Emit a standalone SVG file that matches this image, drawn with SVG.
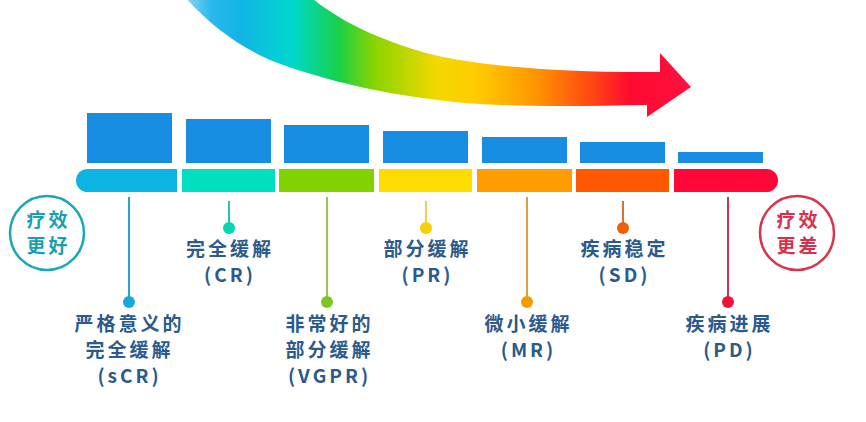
<svg xmlns="http://www.w3.org/2000/svg" width="866" height="422" viewBox="0 0 866 422">
<defs>
<linearGradient id="rainbow" gradientUnits="userSpaceOnUse" x1="180" y1="0" x2="692" y2="0">
<stop offset="0" stop-color="#a8dcf4"/>
<stop offset="0.06" stop-color="#2ab8ec"/>
<stop offset="0.12" stop-color="#12b4e6"/>
<stop offset="0.22" stop-color="#00d8cc"/>
<stop offset="0.31" stop-color="#18d048"/>
<stop offset="0.38" stop-color="#8ad400"/>
<stop offset="0.5" stop-color="#f2d800"/>
<stop offset="0.58" stop-color="#ffcc00"/>
<stop offset="0.7" stop-color="#ff9200"/>
<stop offset="0.8" stop-color="#ff4a10"/>
<stop offset="0.88" stop-color="#ff0a30"/>
<stop offset="1" stop-color="#ff1040"/>
</linearGradient>
</defs>
<style>
.bar{fill:#168de0}
.lbl{font-family:"Noto Sans CJK SC","Noto Sans",sans-serif;font-weight:700;font-size:19px;fill:#2b5b8c;text-anchor:middle;letter-spacing:3px}
.ctxt{font-family:"Noto Sans CJK SC","Noto Sans",sans-serif;font-weight:700;font-size:19px;text-anchor:middle;letter-spacing:3px}
.conn line{stroke-width:2}
</style>
<rect width="866" height="422" fill="#ffffff"/>

<g id="arrow">
<path d="M 308,-5 C 340,22 380,40 430,54 C 480,66 560,73 660,72 L 660,53 L 691,87 L 647,117 L 647,105 C 590,106 530,107 480,104 C 400,99 320,80 270,60 C 235,45 205,20 183,-5 Z" fill="url(#rainbow)"/>
</g>

<g id="better">
<circle cx="47" cy="233" r="37" fill="none" stroke="#1aa8b8" stroke-width="2.5"/>
<text class="ctxt" x="48.5" y="227" fill="#1a9fb2">疗效</text>
<text class="ctxt" x="48.5" y="253" fill="#1a9fb2">更好</text>
</g>
<g id="worse">
<circle cx="797" cy="233" r="37" fill="none" stroke="#d8344e" stroke-width="2.5"/>
<text class="ctxt" x="798.5" y="227" fill="#d8304c">疗效</text>
<text class="ctxt" x="798.5" y="253" fill="#d8304c">更差</text>
</g>

<g id="connectors" class="conn">
<line x1="129" y1="197" x2="129" y2="300" stroke="#2aa2cc"/>
<line x1="229" y1="201" x2="229" y2="224" stroke="#22c8a8"/>
<line x1="327" y1="197" x2="327" y2="300" stroke="#9cc448"/>
<line x1="426" y1="201" x2="426" y2="224" stroke="#eed050"/>
<line x1="527" y1="197" x2="527" y2="300" stroke="#e0a040"/>
<line x1="623" y1="201" x2="623" y2="224" stroke="#d87038"/>
<line x1="728" y1="197" x2="728" y2="300" stroke="#d03454"/>
</g>

<g id="sCR">
<rect class="bar" x="87" y="113" width="85" height="50"/>
<path d="M87.5,169 H177 V192 H87.5 A11.5,11.5 0 0 1 87.5,169 Z" fill="#0cb4e4"/>
<circle cx="129" cy="302" r="6" fill="#16a8dc"/>
<text class="lbl" x="129.5" y="331">严格意义的</text>
<text class="lbl" x="129.5" y="357">完全缓解</text>
<text class="lbl" x="129.5" y="383">(sCR)</text>
</g>
<g id="CR">
<rect class="bar" x="186" y="119" width="85" height="44"/>
<rect x="182" y="169" width="93" height="23" fill="#00e0c0"/>
<circle cx="229" cy="228" r="6" fill="#00d8b0"/>
<text class="lbl" x="230" y="256">完全缓解</text>
<text class="lbl" x="230" y="282">(CR)</text>
</g>
<g id="VGPR">
<rect class="bar" x="284" y="125" width="85" height="38"/>
<rect x="279" y="169" width="95" height="23" fill="#80d200"/>
<circle cx="327" cy="302" r="6" fill="#7cc820"/>
<text class="lbl" x="329.5" y="331">非常好的</text>
<text class="lbl" x="329.5" y="357">部分缓解</text>
<text class="lbl" x="329.5" y="383">(VGPR)</text>
</g>
<g id="PR">
<rect class="bar" x="383" y="131" width="85" height="32"/>
<rect x="379" y="169" width="93" height="23" fill="#ffdc00"/>
<circle cx="426" cy="228" r="6" fill="#f8d000"/>
<text class="lbl" x="427.5" y="256">部分缓解</text>
<text class="lbl" x="427.5" y="282">(PR)</text>
</g>
<g id="MR">
<rect class="bar" x="482" y="137" width="85" height="26"/>
<rect x="477" y="169" width="95" height="23" fill="#ff9c00"/>
<circle cx="527" cy="302" r="6" fill="#f59a00"/>
<text class="lbl" x="528.5" y="331">微小缓解</text>
<text class="lbl" x="528.5" y="357">(MR)</text>
</g>
<g id="SD">
<rect class="bar" x="580" y="142" width="85" height="21"/>
<rect x="576" y="169" width="93" height="23" fill="#ff5800"/>
<circle cx="623" cy="228" r="6" fill="#f06000"/>
<text class="lbl" x="624.5" y="256">疾病稳定</text>
<text class="lbl" x="624.5" y="282">(SD)</text>
</g>
<g id="PD">
<rect class="bar" x="678" y="152" width="85" height="11"/>
<path d="M674,169 H766.5 A11.5,11.5 0 0 1 766.5,192 H674 Z" fill="#ff0838"/>
<circle cx="728" cy="302" r="6" fill="#e8163c"/>
<text class="lbl" x="729.5" y="331">疾病进展</text>
<text class="lbl" x="729.5" y="357">(PD)</text>
</g>
</svg>
